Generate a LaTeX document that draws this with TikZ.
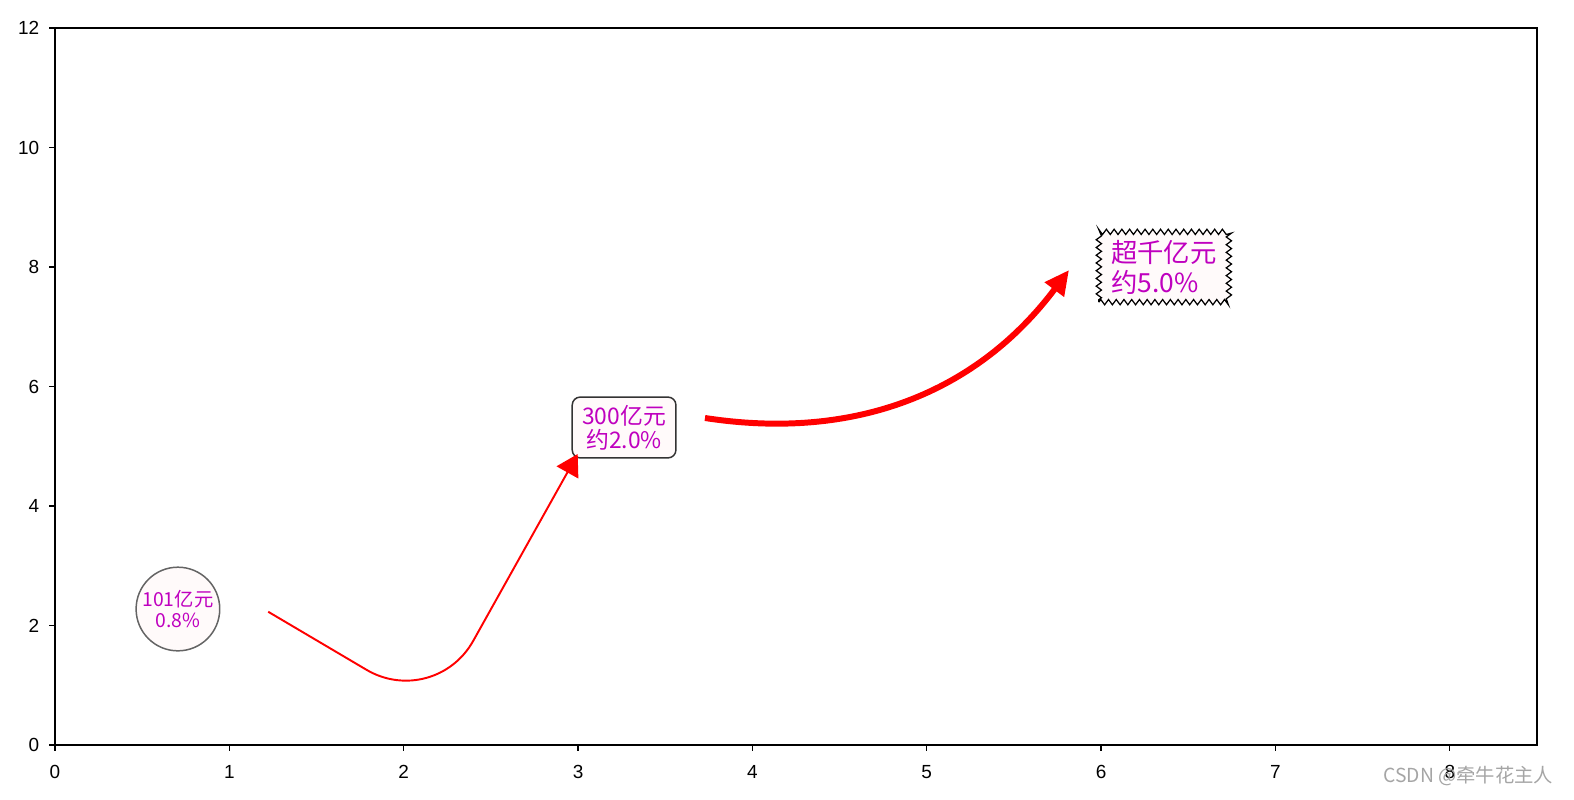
\documentclass[tikz,border=0pt]{standalone}
\usepackage{fontspec}
\setmainfont{Liberation Sans}
\newfontfamily\cjk{Noto Sans CJK SC}
\usetikzlibrary{arrows.meta,decorations.pathmorphing}
\definecolor{annmag}{RGB}{191,0,191}
\definecolor{annred}{RGB}{255,0,0}
\definecolor{annfill}{RGB}{255,250,250}
\definecolor{annedge}{RGB}{100,100,100}
\definecolor{markgray}{RGB}{165,165,165}

\begin{document}
\begin{tikzpicture}[x=3.487cm,y=1.195cm,font=\fontsize{10.8}{12}\selectfont,every node/.style={align=center},
    axtick/.style={line width=0.7pt},
    ticklab/.style={inner sep=0pt},
    annlabel/.style={text=annmag,fill=annfill}]
    \useasboundingbox (-0.3155,-0.9038) rectangle (8.7124,12.469);
    % axes frame and ticks
    \draw[line width=0.7pt] (0,0) rectangle (8.5,12);
    \foreach \x in {0,...,8} {
      \draw[axtick] (\x,0) -- (\x,-0.1);
      \node[ticklab,anchor=north] at (\x,-0.335) {\x};
    }
    \foreach \y in {0,2,...,12} {
      \draw[axtick] (0,\y) -- (-0.034,\y);
      \node[ticklab,anchor=east] at (-0.089,\y) {\y};
    }
    % annotations
    \node[annlabel,draw=annedge,circle,line width=0.85pt,minimum size=47.6pt,inner sep=0pt,
      font=\cjk\fontsize{11}{12}\selectfont] (lab101) at (0.705,2.276) {101亿元\\0.8\%};
    \node[annlabel,draw=black!80,rounded corners=4.5pt,line width=0.85pt,minimum width=59pt,
      minimum height=34.6pt,inner sep=2pt,font=\cjk\fontsize{13}{13.6}\selectfont] (lab300) at (3.264,5.314) {300亿元\\约2.0\%};
    \node[annlabel,draw=black,line width=0.7pt,decorate,decoration={zigzag,segment length=4.4pt,amplitude=1.5pt},
      minimum width=74pt,minimum height=40pt,inner xsep=6pt,align=left,
      font=\cjk\fontsize{15}{17}\selectfont] (lab1000) at (6.36,8.0) {超千亿元\\约5.0\%};
    % arrows
    \coordinate (tail1) at (1.223,2.23);
    \coordinate (bend1) at (2.177,0.586);
    \coordinate (head1) at (2.998,4.870);
    \coordinate (tail2) at (3.728,5.473);
    \coordinate (head2) at (5.816,7.950);
    \draw[annred,line width=1.1pt,rounded corners=45pt,-{Triangle[length=12pt,width=14pt]}] (tail1) -- (bend1) -- (head1);
    \draw[annred,line width=3.4pt,-{Triangle[length=14pt,width=13pt]}] (tail2) .. controls (4.5957,5.0837) and (5.2917,5.9093) .. (head2);
    % watermark
    \node[anchor=west,inner sep=0pt,text=markgray,font=\cjk\fontsize{11}{12}\selectfont] (wmark) at (7.617,-0.519) {CSDN @牵牛花主人};
\end{tikzpicture}
\end{document}
